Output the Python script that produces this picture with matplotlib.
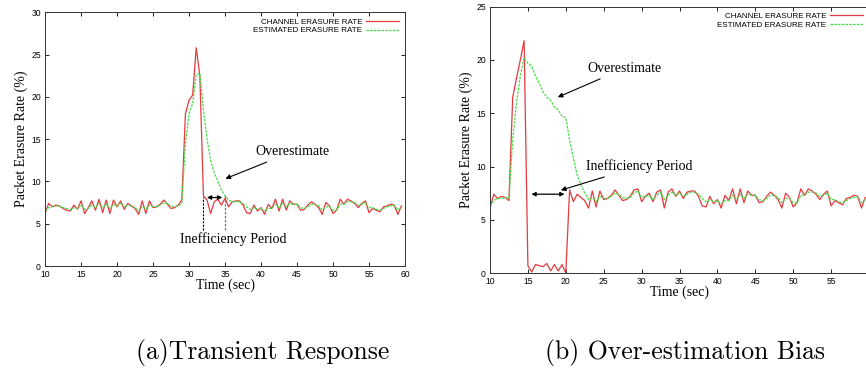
import matplotlib.pyplot as plt
import numpy as np

# time axis (sec), sampled every 0.5 s
time = np.arange(10, 60, 0.5)

# (a) transient response
channel_a = [6.2, 7.4, 7.0, 7.2, 7.1, 6.8, 6.6, 6.5, 7.2, 6.7,
             7.7, 6.2, 6.9, 7.7, 6.6, 7.9, 6.3, 7.8, 6.2, 7.8,
             7.0, 7.7, 6.7, 7.4, 7.1, 6.8, 6.1, 7.7, 6.2, 7.7,
             6.9, 7.0, 7.3, 7.8, 7.3, 6.8, 6.9, 7.2, 7.8, 18.0,
             19.6, 20.2, 25.8, 22.5, 8.3, 7.8, 6.2, 7.6, 7.9, 7.2,
             8.0, 7.0, 7.6, 7.7, 7.7, 7.2, 6.3, 6.2, 7.2, 6.5,
             6.9, 6.1, 7.3, 6.8, 7.9, 6.5, 7.9, 6.6, 7.7, 7.3,
             7.3, 6.6, 6.7, 7.2, 7.6, 7.3, 6.9, 6.1, 7.5, 7.1,
             6.2, 6.6, 7.9, 7.3, 7.9, 7.7, 7.4, 6.9, 7.4, 7.7,
             6.3, 6.8, 6.6, 6.4, 7.0, 7.1, 7.3, 7.2, 6.1, 7.1]
estimate_a = [6.5, 6.9, 7.0, 7.1, 7.1, 6.9, 6.8, 6.6, 6.9, 6.8,
              7.2, 6.7, 6.8, 7.2, 6.9, 7.4, 6.9, 7.3, 6.8, 7.3,
              7.1, 7.4, 7.0, 7.2, 7.1, 6.9, 6.5, 7.1, 6.7, 7.2,
              7.0, 7.0, 7.2, 7.5, 7.4, 7.1, 7.0, 7.1, 7.4, 14.5,
              18.0, 19.2, 22.6, 22.8, 18.5, 15.0, 12.5, 11.0, 10.0, 9.0,
              8.3, 7.8, 7.6, 7.6, 7.6, 7.4, 7.0, 6.7, 6.9, 6.7,
              6.8, 6.5, 6.8, 6.8, 7.3, 6.9, 7.4, 7.0, 7.4, 7.3,
              7.3, 6.9, 6.8, 7.0, 7.3, 7.3, 7.1, 6.6, 7.0, 7.0,
              6.6, 6.6, 7.3, 7.3, 7.6, 7.6, 7.5, 7.2, 7.3, 7.5,
              6.9, 6.9, 6.7, 6.6, 6.8, 7.0, 7.1, 7.2, 6.6, 6.9]

# (b) over-estimation bias
channel_b = [6.1, 7.4, 7.0, 7.2, 7.1, 6.8, 16.5, 18.3, 20.0, 21.8,
             0.7, 0.1, 0.8, 0.7, 0.6, 0.9, 0.2, 0.8, 0.2, 0.8,
             0.0, 7.8, 6.7, 7.4, 7.1, 6.8, 6.1, 7.7, 6.2, 7.7,
             6.9, 7.0, 7.3, 7.8, 7.3, 6.8, 6.9, 7.2, 7.8, 7.9,
             6.7, 7.2, 7.5, 6.7, 7.6, 7.8, 6.1, 7.6, 7.9, 7.2,
             7.7, 7.0, 7.6, 7.7, 7.7, 7.2, 6.3, 6.2, 7.2, 6.5,
             6.9, 6.1, 7.3, 6.8, 7.9, 6.5, 7.9, 6.6, 7.7, 7.3,
             7.3, 6.6, 6.7, 7.2, 7.6, 7.3, 6.9, 6.1, 7.5, 7.1,
             6.2, 6.6, 7.9, 7.3, 7.9, 7.7, 7.4, 6.9, 7.4, 7.7,
             6.3, 6.8, 6.6, 6.4, 7.0, 7.1, 7.3, 7.2, 6.1, 7.1]
estimate_b = [6.3, 6.8, 7.0, 7.0, 7.1, 7.0, 12.5, 16.0, 18.5, 20.2,
              19.7, 19.4, 18.5, 17.8, 17.0, 16.5, 16.2, 15.6, 15.3, 14.7,
              14.6, 12.5, 10.8, 9.2, 8.3, 7.5, 6.9, 7.1, 6.7, 7.2,
              7.0, 7.0, 7.2, 7.5, 7.4, 7.1, 7.0, 7.1, 7.5, 7.7,
              7.1, 7.2, 7.3, 6.9, 7.3, 7.6, 6.9, 7.3, 7.6, 7.3,
              7.5, 7.2, 7.4, 7.6, 7.6, 7.4, 7.0, 6.7, 6.9, 6.7,
              6.8, 6.5, 6.8, 6.8, 7.3, 6.9, 7.4, 7.0, 7.4, 7.3,
              7.3, 6.9, 6.8, 7.0, 7.3, 7.3, 7.1, 6.6, 7.0, 7.0,
              6.6, 6.6, 7.3, 7.3, 7.6, 7.6, 7.5, 7.2, 7.3, 7.5,
              6.9, 6.9, 6.7, 6.6, 6.8, 7.0, 7.1, 7.2, 6.6, 6.9]

red = "#e53a3f"
green = "#44dd44"
serif = "Liberation Serif"
sans = "Liberation Sans"

fig = plt.figure(figsize=(8.66, 3.71), dpi=100)
ax1 = fig.add_axes([0.052, 0.283, 0.4157, 0.684])
ax2 = fig.add_axes([0.5658, 0.264, 0.4377, 0.718])


def style(ax, ymax, xticks, right=True):
    ax.set_xlim(10, 60)
    ax.set_ylim(0, ymax)
    ax.set_xticks(xticks)
    ax.set_yticks(range(0, ymax + 1, 5))
    ax.tick_params(direction="in", length=3, width=0.6, top=True, right=right,
                   labelsize=6.2, pad=3)
    for lab in ax.get_xticklabels() + ax.get_yticklabels():
        lab.set_family(sans)
    for s in ax.spines.values():
        s.set_linewidth(0.7)
        s.set_color("#333333")
    ax.set_xlabel("Time (sec)", family=serif, fontsize=10, labelpad=-0.5)
    ax.set_ylabel("Packet Erasure Rate (%)", family=serif, fontsize=10, labelpad=2)


def draw(ax, ch, est):
    ax.plot(time, ch, color=red, linewidth=0.9, label="CHANNEL ERASURE RATE")
    ax.plot(time, est, color=green, linewidth=0.9, dashes=(2, 1),
            label="ESTIMATED ERASURE RATE")
    ax.legend(loc="upper right", frameon=False, markerfirst=False,
              prop={"family": sans, "size": 5.8}, handlelength=4.2,
              labelspacing=0.15, borderaxespad=0.3, handletextpad=0.4)


arrow = dict(arrowstyle="-|>", color="black", lw=0.8, mutation_scale=7)
double = dict(arrowstyle="<|-|>", color="black", lw=0.9, mutation_scale=6)

# (a)
draw(ax1, channel_a, estimate_a)
style(ax1, 30, range(10, 61, 5))
ax1.annotate("Overestimate", xy=(34.7, 10.2), xytext=(39.2, 13.5),
             family=serif, fontsize=10, va="center", arrowprops=arrow)
ax1.annotate("", xy=(32.1, 8.1), xytext=(35.0, 8.1), arrowprops=double)
ax1.plot([32, 32], [4.3, 8.1], color="black", linestyle="--", linewidth=0.8, dashes=(2, 1.2))
ax1.plot([35, 35], [4.3, 8.4], color="#777777", linestyle="--", linewidth=0.9, dashes=(2, 1.2))
ax1.text(28.75, 3.2, "Inefficiency Period", family=serif, fontsize=10, va="center")

# (b) - the panel runs past the right edge of the figure
draw(ax2, channel_b, estimate_b)
style(ax2, 25, range(10, 56, 5), right=False)
ax2.annotate("Overestimate", xy=(18.6, 16.4), xytext=(22.8, 19.2),
             family=serif, fontsize=10, va="center", arrowprops=arrow)
ax2.annotate("Inefficiency Period", xy=(19.0, 7.7), xytext=(22.6, 10.0),
             family=serif, fontsize=10, va="center", arrowprops=arrow)
ax2.annotate("", xy=(15.1, 7.4), xytext=(20.2, 7.4), arrowprops=double)

# captions
fig.text(0.3035, 0.05, "(a)Transient Response", family="cmr10", fontsize=18.5,
         ha="center", va="center")
fig.text(0.7915, 0.05, "(b) Over-estimation Bias", family="cmr10", fontsize=18.5,
         ha="center", va="center")

plt.savefig("out.png", dpi=100)
